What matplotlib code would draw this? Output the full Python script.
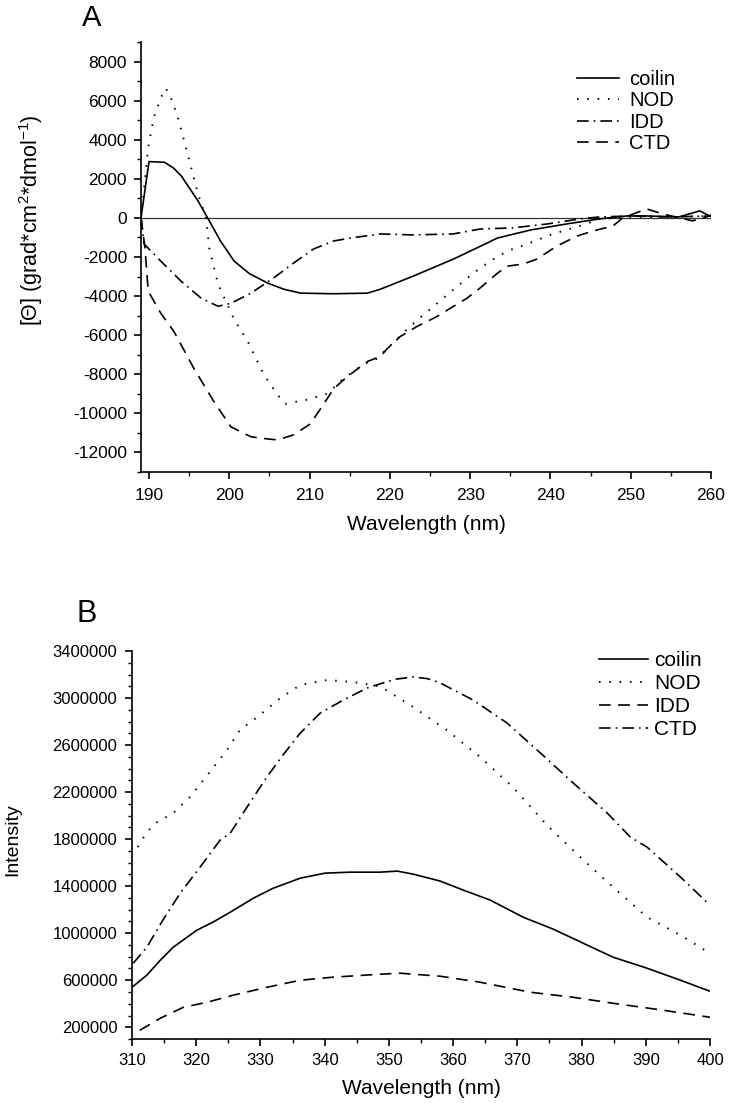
import numpy as np
import matplotlib
matplotlib.use('Agg')
import matplotlib.pyplot as plt
from matplotlib.ticker import MultipleLocator, FormatStrFormatter

plt.rcParams['font.family'] = ['Liberation Sans', 'DejaVu Sans']
plt.rcParams['mathtext.fontset'] = 'custom'
plt.rcParams['mathtext.rm'] = 'Liberation Sans'
plt.rcParams['mathtext.it'] = 'Liberation Sans:italic'
plt.rcParams['axes.unicode_minus'] = False

# --- Panel A: CD spectra ---
a_coilin_x = [189, 190, 191.9, 193.0, 194.0, 195.0, 196.1, 197.3, 198.9, 200.6, 202.5, 204.8, 206.8, 208.9,
              213, 217.2, 218.8, 222.9, 227.9, 230, 233.4, 237.5, 242.0, 246.1, 249.5, 252, 256, 258.6,
              259.8, 260]
a_coilin_y = [0, 2880, 2850, 2570, 2160, 1550, 870, 0, -1180, -2210, -2850, -3340, -3650, -3850,
              -3880, -3850, -3650, -2980, -2110, -1700, -1030, -620, -310, -50, 100, 100, 50, 360,
              100, 150]

a_nod_x = [189, 189.9, 190.6, 191.5, 192.1, 192.7, 193.6, 194.8, 196.1, 197.1, 197.5, 198.6, 200.6, 202.3,
           204.3, 206.0, 207.0, 209.7, 212.2, 214.2, 216.7, 218.4, 222.5, 225, 228.4, 230.4, 232.5, 234.6,
           237.1, 240.3, 243.7, 246.1, 250, 255, 260]
a_nod_y = [0, 3600, 5140, 6170, 6630, 6170, 5140, 3290, 1230, 0, -1540, -3390, -5190, -6320,
           -8020, -9050, -9510, -9300, -9000, -8220, -7500, -7200, -5550, -4680, -3500, -2830, -2210, -1700,
           -1340, -820, -410, -50, 50, 50, 100]

a_idd_x = [189, 189.4, 191.1, 194, 196.5, 198.6, 200.2, 202.7, 205.5, 208, 210.5, 213, 215.1, 218.8,
           222.9, 227.9, 231.2, 235.3, 239.6, 243.7, 246.1, 250, 255, 260]
a_idd_y = [0, -1340, -2060, -3240, -4110, -4520, -4370, -3850, -3080, -2310, -1590, -1180, -1030, -820,
           -870, -820, -570, -510, -310, -50, 50, 100, 50, 100]

a_ctd_x = [189, 189.5, 189.9, 191.5, 193.1, 195.6, 198.1, 200.2, 202.7, 204.8, 206.0, 208.0, 210.1, 211.7,
           213.0, 214.7, 217.2, 218.8, 219.7, 221.3, 223.4, 225.9, 227.5, 229.6, 231.2, 233.4, 234.6, 236.6,
           238.3, 240.8, 243.3, 245.3, 247.8, 249, 252, 254, 257.7, 259.8, 260]
a_ctd_y = [0, -1540, -3750, -4900, -5810, -7710, -9410, -10690, -11200, -11310, -11360, -11100, -10540, -9560,
           -8740, -8120, -7350, -7090, -6680, -6070, -5550, -5040, -4630, -4110, -3600, -2830, -2470, -2360,
           -2110, -1440, -930, -670, -410, 0, 460, 200, -150, 100, 100]

# --- Panel B: fluorescence spectra ---
b_coilin_x = [310, 312.3, 314.4, 316.4, 320.1, 322.6, 325.3, 328.9, 332, 336.2, 340.1, 344, 348.6, 351.3,
              353.8, 358, 361.6, 365.8, 370.9, 375.6, 380.9, 384.9, 390.2, 395.4, 400]
b_coilin_y = [540000, 643000, 770000, 880000, 1026000, 1094000, 1179000, 1298000, 1383000, 1468000, 1511000,
              1519000, 1519000, 1528000, 1502000, 1443000, 1366000, 1281000, 1136000, 1034000, 898000,
              796000, 702000, 600000, 506000]

b_nod_x = [310.9, 312.3, 313.9, 316.4, 319, 322.1, 324.8, 326.8, 329.5, 333.1, 336.2, 340.4, 344.4, 348.6,
           353.8, 359, 364.2, 369.3, 374.6, 379.8, 384.9, 390.2, 395.4, 399.7]
b_nod_y = [1732000, 1860000, 1945000, 2021000, 2158000, 2370000, 2558000, 2728000, 2838000, 3000000,
           3111000, 3153000, 3136000, 3100000, 2923000, 2728000, 2498000, 2243000, 1919000, 1647000,
           1391000, 1136000, 983000, 838000]

b_idd_x = [311.2, 314.4, 318, 321.7, 325.7, 331, 336.2, 341.3, 348.6, 351.7, 358, 364.2, 372, 378.7,
           384.9, 392.7, 400]
b_idd_y = [174000, 277000, 370000, 413000, 472000, 540000, 600000, 626000, 651000, 660000, 634000,
           583000, 498000, 455000, 404000, 345000, 285000]

b_ctd_x = [310.2, 312.3, 314.8, 317.5, 320.6, 323.7, 325.3, 327.9, 331, 333.5, 336.2, 339.3, 342.9, 346.6,
           348.6, 351, 353.8, 356, 358, 363.1, 368.4, 373.6, 378.7, 384, 387.6, 390.2, 395.4, 400]
b_ctd_y = [745000, 881000, 1111000, 1340000, 1562000, 1791000, 1851000, 2072000, 2328000, 2515000,
           2702000, 2872000, 2983000, 3085000, 3120000, 3160000, 3179000, 3165000, 3128000, 2983000,
           2787000, 2532000, 2277000, 2021000, 1817000, 1732000, 1477000, 1238000]

solid = '-'
dotted = (0, (0.8, 4.5))
dashed = (0, (7, 4.5))
dashdot = (0, (7, 3, 1, 3))

fig = plt.figure(figsize=(7.29, 11.03), dpi=100)


def style_axes(ax, labelsize, padx, pady):
    for s in ['top', 'right']:
        ax.spines[s].set_visible(False)
    for s in ['left', 'bottom']:
        ax.spines[s].set_linewidth(1.2)
    ax.tick_params(which='major', direction='out', length=5, width=1.2, labelsize=labelsize)
    ax.tick_params(which='minor', direction='out', length=3, width=1.0)
    ax.tick_params(axis='x', which='major', pad=padx)
    ax.tick_params(axis='y', which='major', pad=pady)


# Panel A
axA = fig.add_axes([0.1934, 0.5721, 0.7819, 0.3898])
axA.axhline(0, color='#333333', lw=0.9)
axA.plot(a_coilin_x, a_coilin_y, color='black', ls=solid, lw=1.2, label='coilin')
axA.plot(a_nod_x, a_nod_y, color='black', ls=dotted, lw=1.4, label='NOD')
axA.plot(a_idd_x, a_idd_y, color='black', ls=dashdot, lw=1.2, label='IDD')
axA.plot(a_ctd_x, a_ctd_y, color='black', ls=dashed, lw=1.2, label='CTD')
axA.set_xlim(189, 260)
axA.set_ylim(-13000, 9000)
axA.xaxis.set_major_locator(MultipleLocator(10))
axA.xaxis.set_minor_locator(MultipleLocator(5))
axA.yaxis.set_major_locator(MultipleLocator(2000))
axA.yaxis.set_minor_locator(MultipleLocator(1000))
style_axes(axA, 12.5, 6.5, 5)
axA.set_xlabel('Wavelength (nm)', fontsize=15, labelpad=9)
axA.set_ylabel('[Θ] (grad*cm$^2$*dmol$^{-1}$)', fontsize=15.5)
axA.yaxis.set_label_coords(-0.168, 0.586)
axA.legend(loc='upper left', bbox_to_anchor=(0.765, 0.935), frameon=False, fontsize=14.5,
           handlelength=2.1, handletextpad=0.5, labelspacing=0.12, borderaxespad=0, borderpad=0)
fig.text(0.112, 0.984, 'A', fontsize=21, ha='left', va='center')

# Panel B
axB = fig.add_axes([0.1811, 0.0580, 0.7929, 0.3518])
axB.plot(b_coilin_x, b_coilin_y, color='black', ls=solid, lw=1.2, label='coilin')
axB.plot(b_nod_x, b_nod_y, color='black', ls=dotted, lw=1.4, label='NOD')
axB.plot(b_idd_x, b_idd_y, color='black', ls=dashed, lw=1.2, label='IDD')
axB.plot(b_ctd_x, b_ctd_y, color='black', ls=dashdot, lw=1.2, label='CTD')
axB.set_xlim(310, 400)
axB.set_ylim(100000, 3400000)
axB.xaxis.set_major_locator(MultipleLocator(10))
axB.xaxis.set_minor_locator(MultipleLocator(5))
axB.set_yticks(np.arange(200000, 3400001, 400000))
axB.yaxis.set_minor_locator(MultipleLocator(100000))
axB.yaxis.set_major_formatter(FormatStrFormatter('%d'))
style_axes(axB, 12, 5, 5.5)
axB.set_xlabel('Wavelength (nm)', fontsize=15, labelpad=8)
axB.set_ylabel('Intensity', fontsize=14)
axB.yaxis.set_label_coords(-0.192, 0.513)
axB.legend(loc='upper left', bbox_to_anchor=(0.808, 1.0), frameon=False, fontsize=15,
           handlelength=2.35, handletextpad=0.3, labelspacing=0.2, borderaxespad=0, borderpad=0)
fig.text(0.105, 0.443, 'B', fontsize=22, ha='left', va='center')

fig.savefig('out.png', dpi=100)
